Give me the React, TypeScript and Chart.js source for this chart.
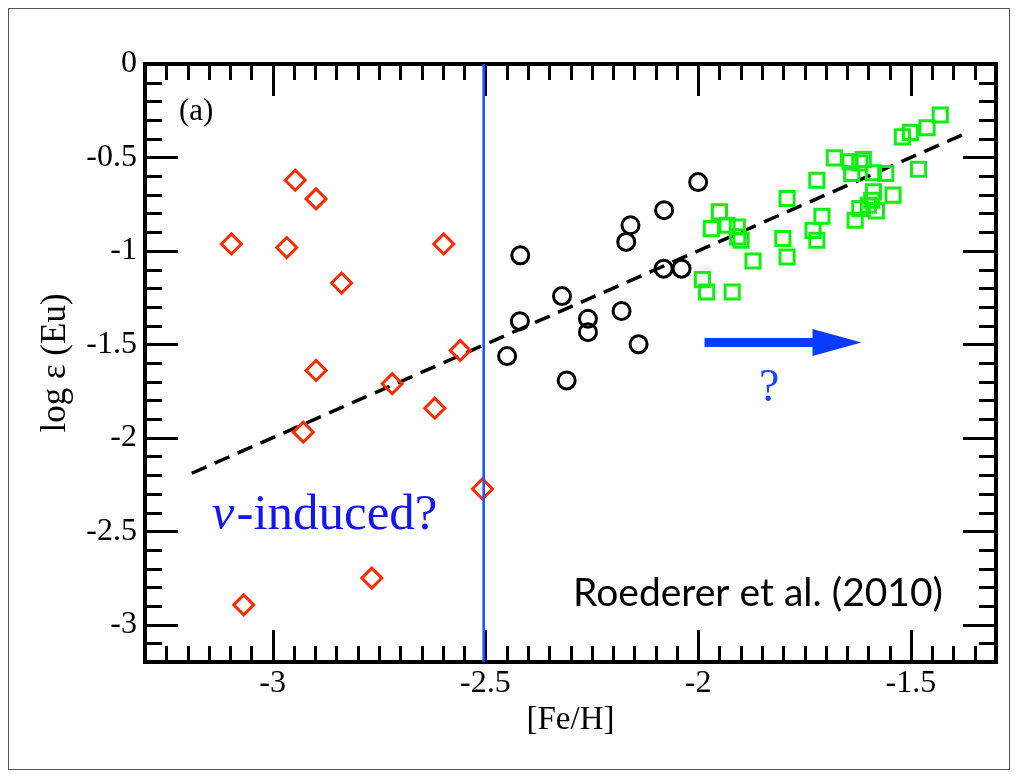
import React, { useEffect, useRef } from 'react';
import { Chart, registerables } from 'chart.js';

Chart.register(...registerables);

const SERIF = '"Liberation Serif", "DejaVu Serif", serif';
const SANS = 'Lato, "Open Sans", sans-serif';

// Axis ticks
const xTickValues = [-3, -2.5, -2, -1.5];
const xTickLabels = ['-3', '-2.5', '-2', '-1.5'];
const yTickValues = [0, -0.5, -1, -1.5, -2, -2.5, -3];
const yTickLabels = ['0', '-0.5', '-1', '-1.5', '-2', '-2.5', '-3'];

// Red diamonds (nu-induced candidates)
const redFeH = [-2.947, -2.898, -3.097, -2.967, -2.598, -2.838, -2.559, -2.898, -2.719, -2.619, -2.928, -2.507, -2.767, -3.068];
const redEu = [-0.622, -0.722, -0.963, -0.982, -0.963, -1.172, -1.533, -1.640, -1.711, -1.842, -1.970, -2.274, -2.751, -2.894];

// Black circles
const blackFeH = [-2.000, -2.080, -2.159, -2.169, -2.418, -2.081, -2.039, -2.320, -2.419, -2.259, -2.259, -2.180, -2.140, -2.449, -2.309];
const blackEu = [-0.632, -0.782, -0.863, -0.952, -1.024, -1.095, -1.095, -1.242, -1.376, -1.363, -1.435, -1.322, -1.500, -1.563, -1.693];

// Green squares (Roederer et al. 2010)
const greenFeH = [-1.431, -1.462, -1.501, -1.520, -1.680, -1.643, -1.612, -1.620, -1.639, -1.588, -1.559, -1.482, -1.721, -1.791, -1.542, -1.588, -1.592, -1.600, -1.620, -1.581, -1.631, -1.709, -1.730, -1.721, -1.950, -1.969, -1.932, -1.908, -1.907, -1.899, -1.801, -1.791, -1.871, -1.990, -1.980, -1.920];
const greenEu = [-0.273, -0.341, -0.366, -0.390, -0.502, -0.524, -0.511, -0.529, -0.586, -0.582, -0.586, -0.563, -0.622, -0.720, -0.702, -0.684, -0.729, -0.756, -0.773, -0.786, -0.836, -0.815, -0.890, -0.943, -0.791, -0.881, -0.863, -0.872, -0.925, -0.943, -0.934, -1.033, -1.054, -1.154, -1.220, -1.220];

// Trend line and cut line
const fitFeH = [-3.19, -1.365];
const fitEu = [-2.19, -0.365];
const cutFeH = [-2.504, -2.504];
const cutEu = [-3.2, 0];

// Arrow
const arrowFeH = [-1.985, -1.616];
const arrowEu = -1.49;

const X_MIN = -3.3, X_MAX = -1.3, Y_MIN = -3.2, Y_MAX = 0;
const X_MINOR = 0.05, Y_MINOR = 0.1;

const zip = (xs: number[], ys: number[]) => xs.map((x, i) => ({ x, y: ys[i] }));

const decorPlugin = {
  id: 'decor',
  beforeDatasetsDraw(chart: any) {
    const { ctx, chartArea, scales } = chart;
    const { left, right, top, bottom } = chartArea;
    const xs = scales.x, ys = scales.y;
    ctx.save();
    ctx.strokeStyle = '#000';
    ctx.lineWidth = 3;
    ctx.beginPath();
    const nx = Math.round((X_MAX - X_MIN) / X_MINOR);
    for (let i = 1; i < nx; i++) {
      const v = X_MIN + i * X_MINOR;
      const major = Math.abs(v / 0.5 - Math.round(v / 0.5)) < 1e-6;
      const len = major ? 32 : 16;
      const px = Math.round(xs.getPixelForValue(v)) + 0.5;
      ctx.moveTo(px, bottom); ctx.lineTo(px, bottom - len);
      ctx.moveTo(px, top); ctx.lineTo(px, top + len);
    }
    const ny = Math.round((Y_MAX - Y_MIN) / Y_MINOR);
    for (let i = 1; i < ny; i++) {
      const v = Y_MIN + i * Y_MINOR;
      const major = Math.abs(v / 0.5 - Math.round(v / 0.5)) < 1e-6;
      const len = major ? 33 : 17;
      const py = Math.round(ys.getPixelForValue(v)) + 0.5;
      ctx.moveTo(left, py); ctx.lineTo(left + len, py);
      ctx.moveTo(right, py); ctx.lineTo(right - len, py);
    }
    ctx.stroke();
    ctx.lineWidth = 4;
    ctx.strokeRect(left, top, right - left, bottom - top);
    ctx.restore();
  },
  afterDraw(chart: any) {
    const { ctx, scales } = chart;
    const xs = scales.x, ys = scales.y;
    ctx.save();
    // arrow
    const ax0 = xs.getPixelForValue(arrowFeH[0]);
    const ax1 = xs.getPixelForValue(arrowFeH[1]);
    const ay = ys.getPixelForValue(arrowEu);
    const headLen = 49, headHalf = 13.5, shaftHalf = 4.5;
    ctx.fillStyle = '#0a3cff';
    ctx.beginPath();
    ctx.moveTo(ax0, ay - shaftHalf);
    ctx.lineTo(ax1 - headLen, ay - shaftHalf);
    ctx.lineTo(ax1 - headLen, ay - headHalf);
    ctx.lineTo(ax1, ay);
    ctx.lineTo(ax1 - headLen, ay + headHalf);
    ctx.lineTo(ax1 - headLen, ay + shaftHalf);
    ctx.lineTo(ax0, ay + shaftHalf);
    ctx.closePath();
    ctx.fill();

    // texts
    ctx.textBaseline = 'alphabetic';
    ctx.textAlign = 'left';
    ctx.fillStyle = '#000';
    ctx.font = `31px ${SERIF}`;
    ctx.fillText('(a)', xs.getPixelForValue(-3.22), ys.getPixelForValue(-0.297));

    ctx.fillStyle = '#1414f0';
    const nx0 = xs.getPixelForValue(-3.143);
    const nby = ys.getPixelForValue(-2.487);
    ctx.font = `italic 51px ${SERIF}`;
    ctx.fillText('ν', nx0, nby);
    const nw = ctx.measureText('ν').width;
    ctx.font = `51px ${SERIF}`;
    ctx.fillText('-induced?', nx0 + nw + 2, nby);

    ctx.fillStyle = '#1a44ff';
    ctx.textAlign = 'center';
    ctx.font = `46px ${SERIF}`;
    ctx.fillText('?', xs.getPixelForValue(-1.833), ys.getPixelForValue(-1.801));

    ctx.fillStyle = '#000';
    ctx.textAlign = 'left';
    ctx.font = `39px ${SANS}`;
    ctx.fillText('Roederer et al. (2010)', xs.getPixelForValue(-2.294), ys.getPixelForValue(-2.899));
    ctx.restore();
  },
};

export default function App() {
  const ref = useRef<HTMLCanvasElement | null>(null);
  useEffect(() => {
    if (!ref.current) return;
    const chart = new Chart(ref.current, {
      type: 'scatter',
      data: {
        datasets: [
          {
            type: 'line',
            data: zip(cutFeH, cutEu),
            borderColor: '#2255ff',
            borderWidth: 2.7,
            pointRadius: 0,
            order: 0,
          } as any,
          {
            data: zip(redFeH, redEu),
            pointStyle: 'rectRot',
            pointRadius: 10,
            borderColor: '#ff2a00',
            backgroundColor: 'rgba(0,0,0,0)',
            borderWidth: 3,
            order: 1,
          },
          {
            data: zip(blackFeH, blackEu),
            pointStyle: 'circle',
            pointRadius: 8.5,
            borderColor: '#000',
            backgroundColor: 'rgba(0,0,0,0)',
            borderWidth: 3,
            order: 2,
          },
          {
            data: zip(greenFeH, greenEu),
            pointStyle: 'rect',
            pointRadius: 10,
            borderColor: '#11ee11',
            backgroundColor: 'rgba(0,0,0,0)',
            borderWidth: 3,
            order: 3,
          },
          {
            type: 'line',
            data: zip(fitFeH, fitEu),
            borderColor: '#000',
            borderWidth: 3.5,
            borderDash: [16, 9],
            pointRadius: 0,
            order: 4,
          } as any,
        ],
      },
      options: {
        animation: false,
        responsive: false,
        maintainAspectRatio: false,
        layout: { padding: { top: 55, right: 9, left: 0, bottom: 0 } },
        plugins: { legend: { display: false }, tooltip: { enabled: false } },
        scales: {
          x: {
            type: 'linear',
            min: X_MIN,
            max: X_MAX,
            afterBuildTicks: (s: any) => { s.ticks = xTickValues.map((v) => ({ value: v })); },
            afterFit: (s: any) => { s.height = 107; },
            grid: { display: false, drawTicks: false },
            border: { display: false },
            ticks: {
              font: { family: SERIF, size: 32 },
              color: '#000',
              padding: 2,
              maxRotation: 0,
              autoSkip: false,
              callback: (_v: any, i: number) => xTickLabels[i],
            },
            title: {
              display: true,
              text: '[Fe/H]',
              color: '#000',
              font: { family: SERIF, size: 33 },
              padding: { top: 0, bottom: 29 },
            },
          },
          y: {
            type: 'linear',
            min: Y_MIN,
            max: Y_MAX,
            afterBuildTicks: (s: any) => { s.ticks = yTickValues.map((v) => ({ value: v })); },
            afterFit: (s: any) => { s.width = 136; },
            grid: { display: false, drawTicks: false },
            border: { display: false },
            ticks: {
              font: { family: SERIF, size: 32 },
              color: '#000',
              padding: 8,
              autoSkip: false,
              callback: (_v: any, i: number) => yTickLabels[i],
            },
            title: {
              display: true,
              text: 'log ε (Eu)',
              color: '#000',
              font: { family: SERIF, size: 35 },
              padding: { top: 26, bottom: 0 },
            },
          },
        },
      },
      plugins: [decorPlugin],
    } as any);
    return () => chart.destroy();
  }, []);

  return (
    <div style={{ width: 1000, height: 760, border: '1px solid #555', position: 'relative', background: '#fff' }}>
      <canvas ref={ref} width={1000} height={760} style={{ display: 'block', width: 1000, height: 760 }} />
    </div>
  );
}
